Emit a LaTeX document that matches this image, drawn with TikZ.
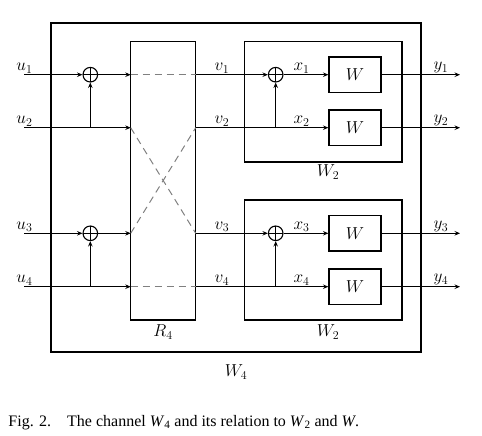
\documentclass[tikz,border=0pt]{standalone}
\usepackage{fontspec}
\newfontfamily\capfont{Liberation Serif}
\usetikzlibrary{arrows.meta}
\begin{document}
\begin{tikzpicture}[x=1pt,y=-1pt,
  font=\fontsize{17.28}{20}\selectfont,
  every path/.style={line width=1pt},
  box/.style={draw,line width=1.3pt,inner sep=0pt,rectangle},
  wbox/.style={box,minimum width=52pt,minimum height=35.4pt},
  xorc/.style={draw,circle,inner sep=0pt,minimum size=14.6pt,line width=1.1pt,
    path picture={\draw[line width=0.7pt] (path picture bounding box.north) -- (path picture bounding box.south)
      (path picture bounding box.west) -- (path picture bounding box.east);}},
  arr/.style={-{Stealth[length=5.5pt,width=4.6pt,inset=2pt]}},
  perm/.style={dashed,dash pattern=on 7pt off 5pt,gray},
  lab/.style={anchor=south,inner sep=1pt}]
\useasboundingbox (0,0) rectangle (482,436);
% boxes
\node[box,minimum width=370pt,minimum height=329pt] (W4) at (236,187.5) {};
\node[box,minimum width=65pt,minimum height=278.7pt] (R4) at (163.2,180.7) {};
\node[box,minimum width=157.7pt,minimum height=120.7pt] (W2a) at (323.2,101.7) {};
\node[box,minimum width=157.7pt,minimum height=120pt] (W2b) at (323.2,260) {};
\node (lW4) at (236,372) {$W_4$};
\node (lR4) at (163,332) {$R_4$};
\node (lW2a) at (328,172) {$W_2$};
\node (lW2b) at (328,332) {$W_2$};
% W boxes
\node[wbox] (w1) at (355,74.7) {$W$};
\node[wbox] (w2) at (355,127.7) {$W$};
\node[wbox] (w3) at (355,233.3) {$W$};
\node[wbox] (w4) at (355,286.7) {$W$};
% xor circles
\node[xorc] (a1) at (90.3,74.7) {};
\node[xorc] (a3) at (90.3,233.3) {};
\node[xorc] (b1) at (275.7,74.7) {};
\node[xorc] (b3) at (275.7,233.3) {};
% coordinates
\foreach \i/\y in {1/74.7,2/127.7,3/233.3,4/286.7}{
  \coordinate (u\i) at (24,\y);
  \coordinate (ri\i) at (130.7,\y);
  \coordinate (ro\i) at (195.7,\y);
  \coordinate (o\i) at (460,\y);
}
\coordinate (ja2) at (90.3,127.7);
\coordinate (ja4) at (90.3,286.7);
\coordinate (jb2) at (275.7,127.7);
\coordinate (jb4) at (275.7,286.7);
% left stage
\draw[arr] (u1) -- (a1);
\draw[arr] (a1) -- (ri1);
\draw[arr] (u2) -- (ri2);
\draw[arr] (ja2) -- (a1);
\draw[arr] (u3) -- (a3);
\draw[arr] (a3) -- (ri3);
\draw[arr] (u4) -- (ri4);
\draw[arr] (ja4) -- (a3);
% permutation
\draw[perm] (ri1) -- (ro1);
\draw[perm] (ri2) -- (ro3);
\draw[perm] (ri3) -- (ro2);
\draw[perm] (ri4) -- (ro4);
% right stage
\draw[arr] (ro1) -- (b1);
\draw[arr] (b1) -- (w1);
\draw[arr] (ro2) -- (w2);
\draw[arr] (jb2) -- (b1);
\draw[arr] (ro3) -- (b3);
\draw[arr] (b3) -- (w3);
\draw[arr] (ro4) -- (w4);
\draw[arr] (jb4) -- (b3);
\draw[arr] (w1) -- (o1);
\draw[arr] (w2) -- (o2);
\draw[arr] (w3) -- (o3);
\draw[arr] (w4) -- (o4);
% labels
\foreach \i/\y in {1/74.7,2/127.7,3/233.3,4/286.7}{
  \node[lab] (lu\i) at (24.5,\y) {$u_\i$};
  \node[lab] (lv\i) at (222,\y) {$v_\i$};
  \node[lab] (lx\i) at (301.6,\y) {$x_\i$};
  \node[lab] (ly\i) at (441,\y) {$y_\i$};
}
% caption
\node[anchor=base west,inner sep=0pt,font=\capfont\fontsize{16}{19}\selectfont] (cap) at (8,426)
  {Fig. 2.\hspace{1em}The channel \textit{W}\textsubscript{4} and its relation to \textit{W}\textsubscript{2} and \textit{W}.};
\end{tikzpicture}
\end{document}
